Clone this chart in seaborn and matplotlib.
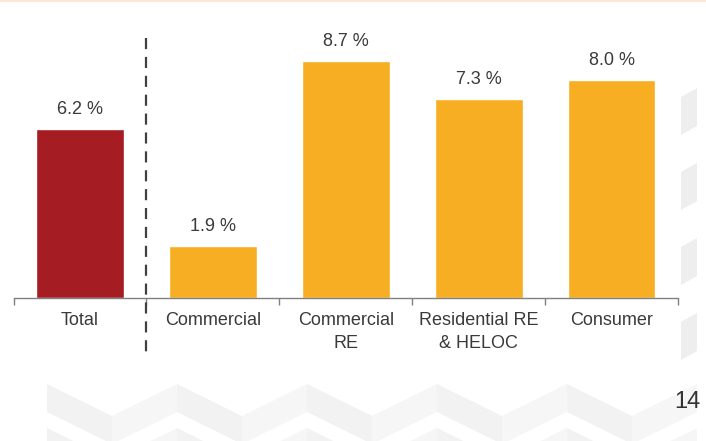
import matplotlib
matplotlib.use("Agg")
import matplotlib.pyplot as plt
from matplotlib.patches import Polygon
from matplotlib.lines import Line2D
import seaborn as sns
import pandas as pd

categories = ["Total", "Commercial", "Commercial\nRE", "Residential RE\n& HELOC", "Consumer"]
values = [6.2, 1.9, 8.7, 7.3, 8.0]
value_labels = ["6.2 %", "1.9 %", "8.7 %", "7.3 %", "8.0 %"]
bar_colors = ["#A61C23", "#F7AE22", "#F7AE22", "#F7AE22", "#F7AE22"]
page_number = "14"

sns.set_theme(style="white")
plt.rcParams["font.family"] = ["Liberation Sans", "DejaVu Sans"]

W, H = 706, 441
fig = plt.figure(figsize=(W / 100, H / 100), dpi=100)
fig.patch.set_facecolor("white")

# background chevron decoration (figure pixel coords, y from top)
def fpoly(pts, color="#f2f2f2"):
    p = Polygon([(x / W, 1 - y / H) for x, y in pts], closed=True,
                transform=fig.transFigure, facecolor=color, edgecolor="none", zorder=0)
    fig.patches.append(p)

for k in range(5):
    x0 = 47 + 130 * k
    for y0 in (340, 384, 428):
        if y0 + 28 <= 368:
            continue
        fpoly([(x0, max(y0, 368)), (x0 + 65, max(y0 + 32, 368)),
               (x0 + 65, y0 + 32 + 28), (x0, y0 + 28)])
        fpoly([(x0 + 65, max(y0 + 32, 368)), (x0 + 130, max(y0, 368)),
               (x0 + 130, y0 + 28), (x0 + 65, y0 + 32 + 28)], color="#f6f6f6")
for y0 in (88, 163, 238, 313):
    fpoly([(681, y0 + 9), (697, y0), (697, y0 + 38), (681, y0 + 47)], color="#eeeeee")
fpoly([(0, 0), (W, 0), (W, 2), (0, 2)], color="#fbe6d8")

ax = fig.add_axes([13.5 / W, (H - 298) / H, (678 - 13.5) / W, (298 - 38) / H])
ax.set_facecolor("none")

df = pd.DataFrame({"category": categories, "value": values})
sns.barplot(data=df, x="category", y="value", hue="category", palette=bar_colors,
            width=0.66, saturation=1, legend=False, ax=ax)

ax.set_xlim(-0.5, len(categories) - 0.5)
ax.set_ylim(0, 9.56)
ax.set_xlabel("")
ax.set_ylabel("")
ax.set_yticks([])
for s in ("top", "right", "left"):
    ax.spines[s].set_visible(False)
ax.spines["bottom"].set_color("#808080")
ax.spines["bottom"].set_linewidth(1.0)

ax.set_xticks(range(len(categories)))
ax.set_xticklabels(categories, fontsize=13, color="#3a3a3a", linespacing=1.45)
ax.set_xticks([i - 0.5 for i in range(len(categories) + 1)], minor=True)
ax.tick_params(axis="x", which="major", length=0, pad=10)
ax.tick_params(axis="x", which="minor", length=5, width=1, color="#808080", direction="out", bottom=True)

for i, (v, lab) in enumerate(zip(values, value_labels)):
    ax.annotate(lab, (i, v), xytext=(0, 8), textcoords="offset points",
                ha="center", va="bottom", fontsize=13, color="#3a3a3a")

# dashed separator between Total and the segments
sep = Line2D([0.5, 0.5], [9.56, -2.1], color="#404040", lw=1.6,
             linestyle=(0, (5, 3.5)), clip_on=False, zorder=3)
ax.add_line(sep)

fig.text(701 / W, 1 - 402 / H, page_number, ha="right", va="center", fontsize=17, color="#333333")

fig.savefig("out.png", dpi=100)
